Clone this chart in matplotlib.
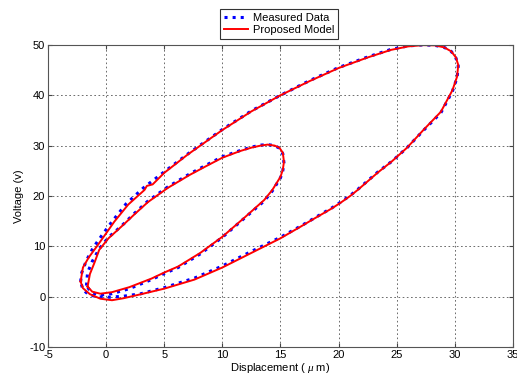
import numpy as np
import matplotlib
matplotlib.use("Agg")
import matplotlib.pyplot as plt

plt.rcParams['font.family'] = ['Liberation Sans', 'DejaVu Sans']
plt.rcParams['mathtext.fontset'] = 'custom'
plt.rcParams['mathtext.it'] = 'Liberation Serif:italic'
plt.rcParams['axes.unicode_minus'] = False

# outer loop (0 -> 50 V -> 0), model
outer_model_x = [-2.2, -2.0, -1.5, -0.8, 0.0, 0.7, 1.9, 3.3, 3.5, 4.0, 5.0, 7.0,
                 10.0, 12.5, 15.0, 17.5, 20.0, 22.5, 24.5, 26.0, 27.3, 28.3, 29.1,
                 29.7, 30.1, 30.3, 30.2, 29.8, 28.8, 27.3, 25.9, 24.6, 24.0, 23.4,
                 22.5, 21.7, 21.0, 20.2, 19.4, 18.5, 17.6, 16.8, 15.0, 12.5, 10.0,
                 7.6, 5.0, 3.0, 1.5, 0.5, -0.5, -1.4, -2.0, -2.2]
outer_model_y = [3.0, 5.8, 7.8, 10.0, 12.6, 14.9, 18.3, 21.2, 22.0, 22.3, 24.6, 28.2,
                 33.1, 36.8, 40.0, 42.8, 45.4, 47.5, 49.0, 49.7, 49.95, 49.9, 49.5,
                 48.7, 47.5, 46.0, 43.7, 41.0, 36.7, 33.1, 29.6, 26.9, 25.8, 24.7,
                 22.9, 21.3, 20.0, 18.7, 17.5, 16.3, 15.1, 14.0, 11.6, 8.7, 5.8,
                 3.4, 1.6, 0.5, -0.3, -0.7, -0.4, 0.5, 1.7, 3.0]

# outer loop, measured
outer_meas_x = [-2.2, -2.1, -1.7, -1.1, -0.3, 0.5, 1.7, 3.2, 5.0, 7.0, 10.0, 12.5,
                15.0, 17.5, 20.0, 22.5, 24.5, 26.0, 27.3, 28.3, 29.1, 29.7, 30.1,
                30.3, 30.2, 29.8, 28.8, 27.3, 25.9, 24.6, 23.4, 22.5, 21.7, 21.0,
                20.2, 19.4, 18.5, 16.8, 15.0, 12.5, 10.0, 7.6, 5.0, 3.0, 1.5, 0.3,
                -0.8, -1.5, -2.0, -2.2]
outer_meas_y = [3.0, 4.8, 7.2, 9.8, 12.4, 14.9, 18.4, 21.6, 24.8, 28.3, 33.2, 36.9,
                40.0, 42.9, 45.5, 47.6, 49.1, 49.8, 50.0, 49.9, 49.5, 48.7, 47.4,
                45.8, 43.5, 40.8, 36.5, 33.0, 29.6, 26.9, 24.8, 23.0, 21.4, 20.1,
                18.8, 17.6, 16.4, 14.1, 11.8, 9.0, 6.1, 3.7, 1.8, 0.6, 0.1, -0.1,
                0.0, 0.4, 1.4, 3.0]

# inner loop (0 -> 30 V -> 0), model
inner_model_x = [-1.6, -1.4, -1.0, -0.6, 0.2, 1.3, 2.5, 3.6, 5.3, 7.2, 8.5, 10.0,
                 11.5, 12.5, 13.3, 13.9, 14.5, 14.9, 15.2, 15.3, 15.2, 15.0, 14.3,
                 13.6, 11.9, 10.0, 8.1, 6.2, 5.0, 3.9, 2.0, 0.5, -0.5, -1.2, -1.6]
inner_model_y = [2.0, 4.5, 6.8, 9.3, 11.6, 13.9, 16.5, 18.8, 21.6, 24.2, 25.8, 27.6,
                 28.9, 29.6, 30.0, 30.2, 30.0, 29.6, 28.6, 26.8, 25.2, 23.8, 21.2,
                 19.2, 15.7, 11.9, 8.7, 6.0, 4.8, 3.6, 1.9, 0.9, 0.6, 1.0, 2.0]

# inner loop, measured
inner_meas_x = [-1.7, -1.6, -1.2, -0.6, 0.2, 1.3, 2.5, 3.6, 5.3, 7.2, 8.5, 10.0,
                11.5, 12.5, 13.3, 13.9, 14.5, 14.9, 15.2, 15.3, 15.2, 15.0, 14.3,
                13.6, 11.9, 10.0, 8.1, 6.2, 5.0, 3.9, 2.0, 0.5, -0.6, -1.3, -1.7]
inner_meas_y = [2.2, 4.8, 7.0, 9.5, 11.8, 14.0, 16.7, 19.0, 21.8, 24.4, 26.0, 27.8,
                29.0, 29.7, 30.1, 30.2, 30.0, 29.5, 28.4, 26.6, 25.0, 23.6, 21.0,
                19.0, 15.6, 11.8, 8.5, 5.8, 4.6, 3.4, 1.6, 0.6, 0.3, 0.9, 2.2]

fig = plt.figure(figsize=(5.17, 3.74), dpi=100)
ax = fig.add_axes([0.093, 0.072, 0.899, 0.808])

l_meas, = ax.plot(outer_meas_x, outer_meas_y, ':', color='blue', lw=2.2,
                  label='Measured Data')
ax.plot(inner_meas_x, inner_meas_y, ':', color='blue', lw=2.2)
l_model, = ax.plot(outer_model_x, outer_model_y, '-', color='red', lw=1.4,
                   label='Proposed Model')
ax.plot(inner_model_x, inner_model_y, '-', color='red', lw=1.4)

ax.set_xlim(-5, 35)
ax.set_ylim(-10, 50)
ax.set_xticks(np.arange(-5, 36, 5))
ax.set_yticks(np.arange(-10, 51, 10))
ax.grid(True, color='#555555', linestyle=(0, (2, 3)), linewidth=0.6)
ax.tick_params(direction='in', length=3, labelsize=8, top=True, right=True,
               color='#444444', pad=2)
for s in ax.spines.values():
    s.set_color('#555555')
    s.set_linewidth(0.8)

ax.set_xlabel(r'Displacement ( $\mu$ m)', fontsize=8, labelpad=1)
ax.set_ylabel('Voltage (v)', fontsize=8, labelpad=4)

leg = ax.legend(handles=[l_meas, l_model], loc='lower center',
                bbox_to_anchor=(0.497, 1.02), fontsize=8, frameon=True,
                fancybox=False, edgecolor='black', handlelength=2.2,
                borderpad=0.35, labelspacing=0.2, handletextpad=0.4,
                borderaxespad=0)
leg.get_frame().set_linewidth(0.8)

fig.savefig('out.png', dpi=100)
